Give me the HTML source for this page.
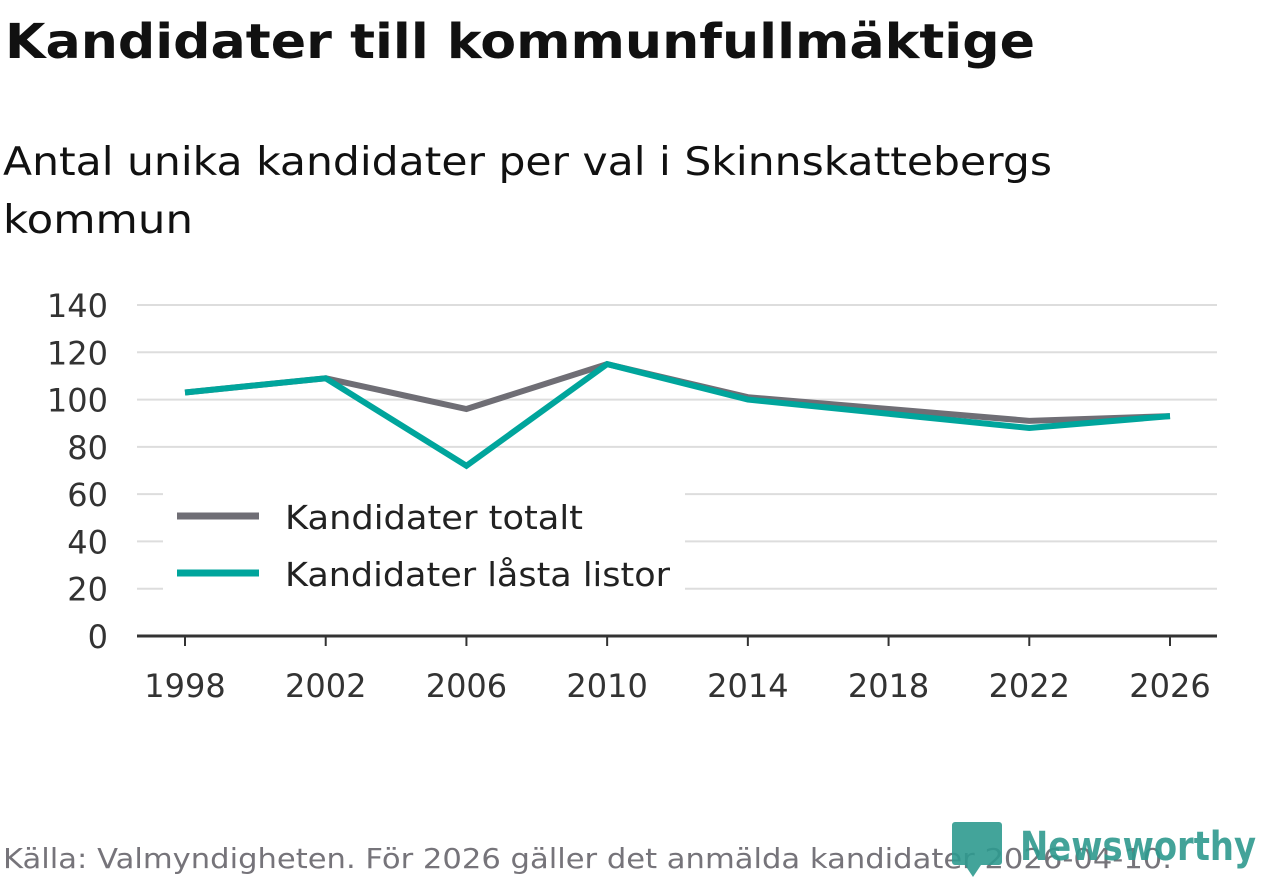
<!DOCTYPE html>
<html><head><meta charset="utf-8"><style>
html,body{margin:0;padding:0;background:#fff;width:1262px;height:879px;overflow:hidden}
svg{font-family:"DejaVu Sans","Liberation Sans",sans-serif}
</style></head><body>
<svg id="chart" width="1262" height="879">
<text x="5" y="58" font-size="48" font-weight="bold" fill="#111" textLength="1030" lengthAdjust="spacingAndGlyphs">Kandidater till kommunfullmäktige</text>
<text x="3" y="175" font-size="39" fill="#111" textLength="1049" lengthAdjust="spacingAndGlyphs">Antal unika kandidater per val i Skinnskattebergs</text>
<text x="3" y="233" font-size="39" fill="#111" textLength="190" lengthAdjust="spacingAndGlyphs">kommun</text>
<g id="grid"></g><g id="lines"></g>
<g>
<rect x="163" y="493" width="522" height="107" fill="#fff"/>
<line x1="177" y1="516" x2="259" y2="516" stroke="#6f6e75" stroke-width="7"/>
<text x="285" y="529" font-size="33" fill="#222" textLength="298" lengthAdjust="spacingAndGlyphs">Kandidater totalt</text>
<line x1="177" y1="573" x2="259" y2="573" stroke="#00a59c" stroke-width="7"/>
<text x="285" y="586" font-size="33" fill="#222" textLength="385" lengthAdjust="spacingAndGlyphs">Kandidater låsta listor</text>
</g>
<text x="3" y="868" font-size="28" fill="#76747a" textLength="1169" lengthAdjust="spacingAndGlyphs">Källa: Valmyndigheten. För 2026 gäller det anmälda kandidater 2026-04-10.</text>
<g opacity="0.9">
<path d="M955 822 h44 a3 3 0 0 1 3 3 v37 a3 3 0 0 1 -3 3 h-18 l-8 12 l-8 -12 h-10 a3 3 0 0 1 -3 -3 v-37 a3 3 0 0 1 3 -3z" fill="#2f9a8f"/>
<text x="1020" y="860" font-size="40" font-weight="bold" fill="#2f9a8f" textLength="236" lengthAdjust="spacingAndGlyphs">Newsworthy</text>
</g>
</svg>
<script>
const years=[1998,2002,2006,2010,2014,2018,2022,2026];
const totalt=[103,109,96,115,101,96,91,93];
const lasta=[103,109,72,115,100,94,88,93];
const yTicks=[0,20,40,60,80,100,120,140];
const NS='http://www.w3.org/2000/svg';
const x=v=>185+(v-1998)/28*985;
const y=v=>636-v*(331/140);
const grid=document.getElementById('grid');
function mk(t,a,p){const e=document.createElementNS(NS,t);for(const k in a)e.setAttribute(k,a[k]);p.appendChild(e);return e;}
yTicks.forEach(t=>{
 if(t>0){const l=mk('line',{x1:137,x2:1217,y1:y(t),y2:y(t),stroke:'#ddd','stroke-width':2},grid);
 
 }
 const tx=mk('text',{x:108,y:y(t)+12,'font-size':32,fill:'#333','text-anchor':'end'},grid);tx.textContent=t;
 
 
});
const ax=mk('line',{x1:137,x2:1217,y1:636,y2:636,stroke:'#333','stroke-width':3},grid);


years.forEach(yr=>{
 mk('line',{x1:x(yr),x2:x(yr),y1:636,y2:646,stroke:'#333','stroke-width':2},grid);
 const tx=mk('text',{x:x(yr),y:697,'font-size':32,fill:'#333','text-anchor':'middle'},grid);tx.textContent=yr;
 
 
});
const lines=document.getElementById('lines');
[[totalt,'#6f6e75','line-totalt'],[lasta,'#00a59c','line-lasta']].forEach(([d,c,n])=>{
 const p=mk('polyline',{points:d.map((v,i)=>x(years[i])+','+y(v)).join(' '),fill:'none',stroke:c,'stroke-width':6,'stroke-linejoin':'miter'},lines);
 
 
});
</script>
</body></html>
